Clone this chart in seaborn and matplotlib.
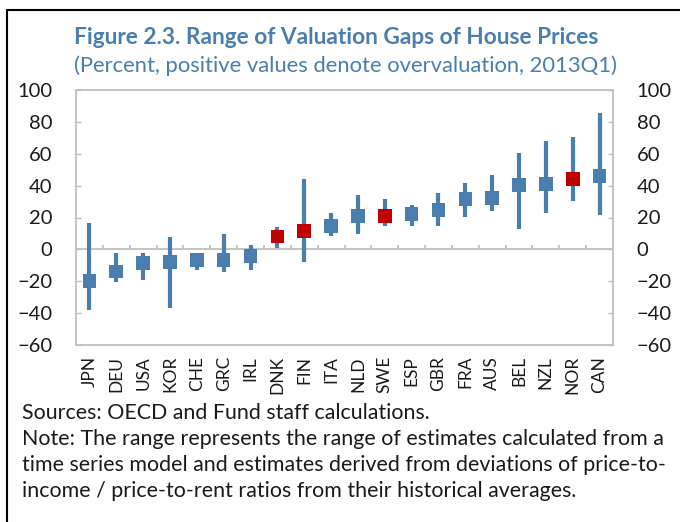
import matplotlib
matplotlib.use("Agg")
import matplotlib.pyplot as plt
from matplotlib.lines import Line2D
import numpy as np
import pandas as pd
import seaborn as sns

# valuation gap ranges (percent, 2013Q1)
countries = ["JPN", "DEU", "USA", "KOR", "CHE", "GRC", "IRL", "DNK", "FIN", "ITA",
             "NLD", "SWE", "ESP", "GBR", "FRA", "AUS", "BEL", "NZL", "NOR", "CAN"]
gap_mid = [-19.7, -14.0, -8.4, -7.8, -6.7, -6.7, -4.2, 8.0, 11.7, 14.8,
           20.9, 20.9, 22.1, 24.7, 31.5, 32.2, 40.3, 41.0, 44.1, 46.0]
gap_low = [-38.0, -20.7, -19.5, -37.0, -13.0, -14.4, -13.2, 0.6, -8.0, 8.1,
           9.4, 14.4, 14.4, 14.4, 20.5, 24.2, 13.0, 23.0, 30.5, 21.7]
gap_high = [16.7, -2.0, -2.0, 8.0, -3.0, 9.4, 2.9, 14.2, 44.0, 23.0,
            34.0, 31.8, 27.8, 35.3, 41.6, 46.4, 60.4, 67.7, 70.2, 85.3]
highlighted = ["DNK", "FIN", "SWE", "NOR"]
y_ticks = [-60, -40, -20, 0, 20, 40, 60, 80, 100]

BLUE = "#4A7EAF"
RED = "#C00000"
GREY = "#BFBFBF"

df = pd.DataFrame({"country": countries, "mid": gap_mid, "low": gap_low, "high": gap_high})
df["group"] = np.where(df["country"].isin(highlighted), "hl", "base")
df["pos"] = np.arange(len(df))

sns.set_theme(style="white")
plt.rcParams["font.family"] = ["Lato", "DejaVu Sans"]

fig = plt.figure(figsize=(6.8, 5.22), dpi=100)
ax = fig.add_axes([76 / 680, 1 - 345 / 522, 537 / 680, 255 / 522])

# range whiskers first, squares on top
ax.vlines(df["pos"], df["low"], df["high"], color=BLUE, linewidth=3.0, zorder=2)
sns.scatterplot(data=df, x="pos", y="mid", hue="group", palette={"base": BLUE, "hl": RED},
                marker="s", s=96, linewidth=0, legend=False, zorder=3, ax=ax)

# zero line with little category separators
ax.axhline(0, color=GREY, linewidth=1.3, zorder=1)
ax.vlines(df["pos"][:-1] + 0.5, 0, 2.6, color=GREY, linewidth=1.3, zorder=1)

ax.set_xlim(-0.5, len(df) - 0.5)
ax.set_ylim(-60, 100)
ax.set_yticks(y_ticks)
ax.set_xticks(df["pos"])
ax.set_xticklabels(countries, rotation=90, fontsize=12.5, color="#1a1a1a")
ax.set_xlabel("")
ax.set_ylabel("")
ax.tick_params(axis="x", length=0, pad=8)
ax.tick_params(axis="y", direction="in", length=3.5, width=1, color=GREY,
               left=True, right=True, labelleft=True, labelright=True,
               labelsize=14.5, labelcolor="#1a1a1a", pad=17)
for sp in ax.spines.values():
    sp.set_color(GREY)
    sp.set_linewidth(1.3)

fig.text(74 / 680, 1 - 38 / 522, "Figure 2.3. Range of Valuation Gaps of House Prices",
         fontsize=16.3, fontweight="bold", color=BLUE, va="center", ha="left")
fig.text(74 / 680, 1 - 66 / 522, "(Percent, positive values denote overvaluation, 2013Q1)",
         fontsize=15.8, color=BLUE, va="center", ha="left")

notes = ["Sources: OECD and Fund staff calculations.",
         "Note: The range represents the range of estimates calculated from a",
         "time series model and estimates derived from deviations of price-to-",
         "income / price-to-rent ratios from their historical averages."]
for i, line in enumerate(notes):
    fig.text(22 / 680, 1 - (413 + 26 * i) / 522, line, fontsize=15.4,
             color="#1a1a1a", va="center", ha="left")

# outer frame (left and top edges of the cropped box)
fig.add_artist(Line2D([7 / 680, 7 / 680], [0, 1 - 10 / 522], color="black", linewidth=1.5,
                      transform=fig.transFigure))
fig.add_artist(Line2D([7 / 680, 1], [1 - 10 / 522, 1 - 10 / 522], color="black", linewidth=1.5,
                      transform=fig.transFigure))

fig.savefig("out.png", dpi=100)
